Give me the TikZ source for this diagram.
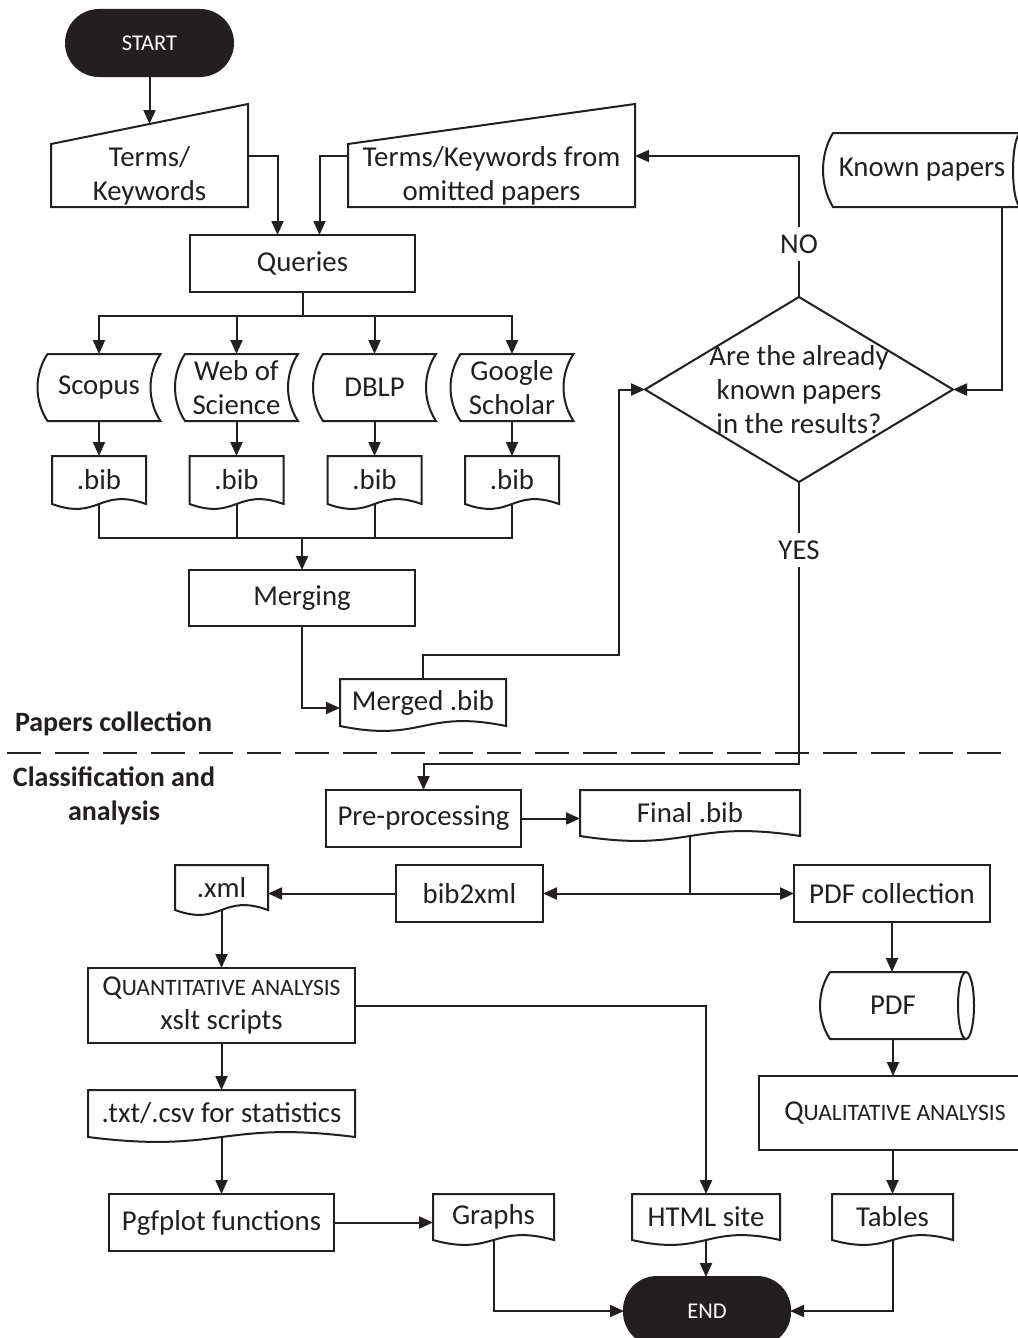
\documentclass[tikz,border=0pt]{standalone}
\usepackage{fontspec}
\setmainfont{Carlito}
\usetikzlibrary{arrows.meta,calc}
\definecolor{ink}{HTML}{231F20}
\tikzset{
  every node/.style={inner sep=0pt, outer sep=0pt, align=center, text=ink, font=\fontsize{28.8}{34}\selectfont},
  ln/.style={draw=ink, line width=2pt},
  arr/.style={ln, -{Triangle[length=14pt,width=12pt]}},
  box/.style={draw=ink, line width=2pt},
  term/.style={fill=ink, draw=ink, line width=2pt, rounded corners=33pt, text=white, font=\fontsize{22.5}{26}\selectfont},
  lbl/.style={fill=white, inner xsep=3pt, inner ysep=8pt},
  sec/.style={font=\fontsize{28}{34.5}\selectfont\bfseries},
}
\begin{document}
\begin{tikzpicture}[x=1pt,y=-1pt]
\fill[white] (0,0) rectangle (1017,1338);
\useasboundingbox (0,0) rectangle (1017,1338);

% ---------- nodes ----------
\node[term, minimum width=167pt, minimum height=66pt] (start) at (149.5,43) {START};
\node[minimum width=197pt, minimum height=63pt] (terms) at (149.5,175.5) {Terms/\\Keywords};
\node[minimum width=287pt, minimum height=63pt] (omit) at (491.5,175.5) {Terms/Keywords from\\omitted papers};
\node[minimum width=198pt, minimum height=74pt] (known) at (922,170) {Known papers};
\node[box, minimum width=225pt, minimum height=57pt] (queries) at (302.5,263.5) {Queries};
\node[minimum width=123pt, minimum height=67pt] (scopus) at (99,387.5) {Scopus};
\node[minimum width=123pt, minimum height=67pt] (wos) at (236.5,387.5) {Web of\\Science};
\node[minimum width=123pt, minimum height=67pt] (dblp) at (374.5,387.5) {DBLP};
\node[minimum width=123pt, minimum height=67pt] (gs) at (512,387.5) {Google\\Scholar};
\node[minimum width=94pt, minimum height=48pt] (bibA) at (99,480) {.bib};
\node[minimum width=94pt, minimum height=48pt] (bibB) at (236.5,480) {.bib};
\node[minimum width=94pt, minimum height=48pt] (bibC) at (374.5,480) {.bib};
\node[minimum width=94pt, minimum height=48pt] (bibD) at (512,480) {.bib};
\node[minimum width=308pt, minimum height=185pt] (dec) at (799,389.5) {Are the already\\known papers\\in the results?};
\node[box, minimum width=226pt, minimum height=56pt] (merging) at (302,598) {Merging};
\node[minimum width=166pt, minimum height=47pt] (merged) at (423,702.5) {Merged .bib};
\node[sec, anchor=west] (pc) at (15,724) {Papers collection};
\node[sec] (ca) at (114,796) {Classification and\\analysis};
\node[box, minimum width=195pt, minimum height=57pt] (pre) at (423.5,818.5) {Pre-processing};
\node[minimum width=220pt, minimum height=46pt] (final) at (690,813) {Final .bib};
\node[box, minimum width=147pt, minimum height=57pt] (b2x) at (469.5,893.5) {bib2xml};
\node[box, minimum width=196pt, minimum height=57pt] (pdfc) at (892,893.5) {PDF collection};
\node[minimum width=93pt, minimum height=45pt] (xml) at (221.5,887.5) {.xml};
\node[box, minimum width=267pt, minimum height=75pt] (quant) at (221.5,1005.5) {Q{\fontsize{23.5}{26}\selectfont UANTITATIVE ANALYSIS}\\xslt scripts};
\node[minimum width=146pt, minimum height=67pt] (pdf) at (893,1005.5) {PDF};
\node[box, minimum width=272pt, minimum height=74pt] (qual) at (895,1113) {Q{\fontsize{23.5}{26}\selectfont UALITATIVE ANALYSIS}};
\node[minimum width=267pt, minimum height=47pt] (txt) at (221.5,1113.5) {.txt/.csv for statistics};
\node[box, minimum width=225pt, minimum height=57pt] (pgf) at (221.5,1222.5) {Pgfplot functions};
\node[minimum width=121pt, minimum height=46pt] (graphs) at (493.5,1217) {Graphs};
\node[minimum width=148pt, minimum height=46pt] (html) at (706,1217) {HTML site};
\node[minimum width=121pt, minimum height=46pt] (tables) at (892.5,1217) {Tables};
\node[term, minimum width=166pt, minimum height=68pt] (end) at (707,1311) {END};

% ---------- shapes ----------
\foreach \n in {terms,omit}
  \draw[ln] (\n.south west) -- (\n.north west) -- ([yshift=40pt]\n.north east) -- (\n.south east) -- cycle;
\foreach \n in {bibA,bibB,bibC,bibD,merged,final,xml,txt,graphs,html,tables}
  \draw[ln] (\n.south west) -- (\n.north west) -- (\n.north east) -- (\n.south east)
    .. controls ($(\n.south)+(0,-17)$) and ($(\n.south)+(0,17)$) .. (\n.south west) -- cycle;
\foreach \n in {scopus,wos,dblp,gs}
  \draw[ln] ([xshift=10pt]\n.north west) -- (\n.north east)
    .. controls ($(\n.north east)+(-13.3,20)$) and ($(\n.south east)+(-13.3,-20)$) .. (\n.south east)
    -- ([xshift=10pt]\n.south west)
    .. controls ($(\n.south west)+(-3.3,-20)$) and ($(\n.north west)+(-3.3,20)$) .. ([xshift=10pt]\n.north west) -- cycle;
\foreach \n/\ry/\cy in {known/37/22,pdf/33.5/20}{
  \draw[ln] (\n.north east) -- ([xshift=10pt]\n.north west)
    .. controls ($(\n.north west)+(-3.3,\cy)$) and ($(\n.south west)+(-3.3,-\cy)$) .. ([xshift=10pt]\n.south west)
    -- (\n.south east);
  \draw[ln] (\n.east) ellipse [x radius=8pt, y radius=\ry pt];
}
\draw[ln] (dec.north) -- (dec.east) -- (dec.south) -- (dec.west) -- cycle;

% ---------- connectors ----------
\coordinate (termsTop) at ($(terms.north west)!0.5!([yshift=40pt]terms.north east)$);
\draw[arr] (start.south) -- (termsTop);
\draw[arr] ([yshift=20pt]terms.east) -| ([xshift=-25pt]queries.north);
\draw[arr] ([yshift=20pt]omit.west) -| ([xshift=17pt]queries.north);
\foreach \n in {scopus,wos,dblp,gs}
  \draw[arr] (queries.south) -- ++(0,24) -| (\n.north);
\foreach \n/\m in {scopus/bibA,wos/bibB,dblp/bibC,gs/bibD}
  \draw[arr] (\n.south) -- (\m.north);
\coordinate (mj) at ($(merging.north)+(0,-32)$);
\draw[ln] (bibA.south) |- (mj);
\draw[ln] (bibD.south) |- (mj);
\draw[ln] (bibB.south) -- (bibB.south |- mj);
\draw[ln] (bibC.south) -- (bibC.south |- mj);
\draw[arr] (mj) -- (merging.north);
\draw[arr] (merging.south) |- ([yshift=-5.5pt]merged.west);
\draw[arr] (merged.north) -- ++(0,-24) -| ([xshift=-26pt]dec.west) -- (dec.west);
\draw[arr] (dec.north) |- ([yshift=19.5pt]omit.east);
\draw[arr] ([xshift=-19pt]known.south east) |- (dec.east);
\draw[arr] (dec.south) |- ([yshift=26pt]pre.north) -- (pre.north);
\node[lbl] (no) at (799,244) {NO};
\node[lbl] (yes) at (799,550) {YES};

\draw[ln, dash pattern=on 34pt off 14pt] (7,753) -- (1003,753);

\draw[arr] (pre.east) -- (final.west |- pre.east);
\draw[arr] (final.south) |- (b2x.east);
\draw[arr] (final.south) |- (pdfc.west);
\draw[arr] (b2x.west) -- (xml.east |- b2x.west);
\draw[arr] (xml.south) -- (quant.north);
\draw[arr] (quant.east) -| (html.north);
\draw[arr] (quant.south) -- (txt.north);
\draw[arr] (txt.south) -- (pgf.north);
\draw[arr] (pgf.east) -- (graphs.west |- pgf.east);
\draw[arr] (graphs.south) |- (end.west);
\draw[arr] (html.south) -- (html.south |- end.north);
\draw[arr] (tables.south) |- (end.east);
\draw[arr] (pdfc.south) -- (pdfc.south |- pdf.north);
\draw[arr] (pdf.south) -- (pdf.south |- qual.north);
\draw[arr] (tables.north |- qual.south) -- (tables.north);
\end{tikzpicture}
\end{document}
